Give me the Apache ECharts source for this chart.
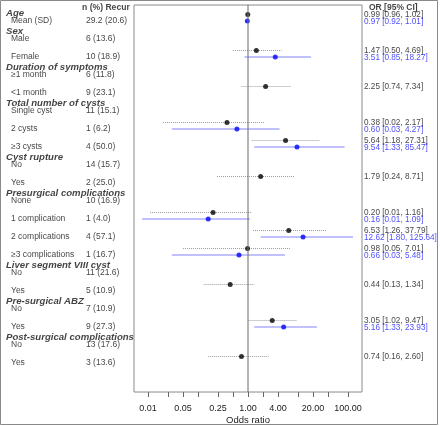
<!DOCTYPE html>
<html><head><meta charset="utf-8">
<script src="https://cdn.jsdelivr.net/npm/echarts@6/dist/echarts.min.js"></script>
<style>html,body{margin:0;padding:0;background:#fff}#c{width:440px;height:426px}</style>
</head><body><div id="c"></div>
<script>
// ---------- data ----------
const groupLabels = ['Age','Sex','Duration of symptoms','Total number of cysts','Cyst rupture',
  'Presurgical complications','Liver segment VIII cyst','Pre-surgical ABZ','Post-surgical complications'];
const groupFirstRow = [0,1,3,5,8,10,14,16,18];
const levelLabels = ['Mean (SD)','Male','Female','≥1 month','<1 month','Single cyst','2 cysts','≥3 cysts',
  'No','Yes','None','1 complication','2 complications','≥3 complications','No','Yes','No','Yes','No','Yes'];
const recurN = ['29.2 (20.6)','6 (13.6)','10 (18.9)','6 (11.8)','9 (23.1)','11 (15.1)','1 (6.2)','4 (50.0)',
  '14 (15.7)','2 (25.0)','10 (16.9)','1 (4.0)','4 (57.1)','1 (16.7)','11 (21.6)','5 (10.9)','7 (10.9)','9 (27.3)','13 (17.6)','3 (13.6)'];

// unadjusted (black)
const unadjRows = [0,2,4,6,7,9,11,12,13,15,17,19];
const unadjOR = [0.99,1.47,2.25,0.38,5.64,1.79,0.20,6.53,0.98,0.44,3.05,0.74];
const unadjLo = [0.96,0.50,0.74,0.02,1.18,0.24,0.011,1.26,0.05,0.13,1.02,0.16];
const unadjHi = [1.02,4.69,7.34,2.17,27.31,8.71,1.16,37.79,7.01,1.34,9.47,2.60];
// adjusted (blue)
const adjRows = [0,2,6,7,11,12,13,17];
const adjOR = [0.97,3.51,0.60,9.54,0.16,12.62,0.66,5.16];
const adjLo = [0.92,0.85,0.03,1.33,0.0076,1.80,0.03,1.33];
const adjHi = [1.01,18.27,4.27,85.47,1.09,125.64,5.48,23.93];

const xTicks = [0.01,0.025,0.05,0.1,0.25,0.5,1,2,4,10,20,40,100];
const xTickLabels = [0.01,0.05,0.25,1,4,20,100];
const refOR = 1;

// ---------- layout ----------
const FONT = '"Liberation Sans", Arial, sans-serif';
const Y_MIN = -0.89, Y_MAX = 20.61;
const BLACK_OFF = -0.36, HEAD_OFF = -0.44, TITLE_ROW = -0.74;
const BLUE_TXT = '#1a1aff';
const fmt = v => v.toFixed(2);
const ciText = (o,l,h) => fmt(o) + ' [' + fmt(l) + ', ' + fmt(h) + ']';

const chart = echarts.init(document.getElementById('c'), null, {renderer:'canvas'});

function yAx(i){ return {gridIndex:i, type:'value', inverse:true, min:Y_MIN, max:Y_MAX, show:false}; }
function txt(idx, items, style){
  return {type:'scatter', xAxisIndex:idx, yAxisIndex:idx, symbolSize:0, silent:true, animation:false,
    data: items.map(d => ({value:[d[0], d[1]], name:d[2]})),
    label:Object.assign({show:true, position:'right', distance:0, formatter:'{b}',
      fontFamily:FONT, fontSize:8.5, color:'#111'}, style)};
}

const leftItems = {
  heads: groupLabels.map((g,i) => [6, groupFirstRow[i] + HEAD_OFF, g]),
  levels: levelLabels.map((l,i) => [11, i, l]),
  vals: recurN.map((v,i) => [86, i, v]),
  title: [[82, TITLE_ROW, 'n (%) Recur']]
};
const rightItems = {
  black: unadjRows.map((r,i) => [2, r + BLACK_OFF, ciText(unadjOR[i], unadjLo[i], unadjHi[i])]),
  blue: adjRows.map((r,i) => [2, r + 0.05, ciText(adjOR[i], adjLo[i], adjHi[i])]),
  title: [[7, TITLE_ROW, 'OR [95% CI]']]
};

function ciSeries(rows, lo, hi, off, style){
  return {type:'custom', xAxisIndex:0, yAxisIndex:0, silent:true, animation:false,
    data: rows.map((r,i) => [lo[i], hi[i], r + off]),
    encode:{x:[0,1], y:2},
    renderItem:(params, api) => {
      const a = api.coord([api.value(0), api.value(2)]);
      const b = api.coord([api.value(1), api.value(2)]);
      return {type:'line', shape:{x1:a[0], y1:a[1], x2:b[0], y2:b[1]}, style:style};
    }};
}

const gridBase = {top:5, height:387, outerBoundsMode:'none', containLabel:false};
chart.setOption({
  animation:false,
  backgroundColor:'#fff',
  textStyle:{fontFamily:FONT},
  graphic:[{type:'rect', shape:{x:0.5, y:0.5, width:437, height:424}, style:{fill:'none', stroke:'#8a8a8a', lineWidth:1}, silent:true, z:-1}],
  grid:[
    Object.assign({left:134, width:228, show:true, borderColor:'#8a8a8a', borderWidth:1, backgroundColor:'transparent'}, gridBase),
    Object.assign({left:0, width:134}, gridBase),
    Object.assign({left:362, width:78}, gridBase)
  ],
  xAxis:[
    {gridIndex:0, type:'log', logBase:10, min:0.005248, max:190.5, position:'bottom',
      name:'Odds ratio', nameLocation:'middle', nameGap:23, nameMoveOverlap:false,
      nameTextStyle:{fontFamily:FONT, fontSize:9.5, color:'#222'},
      axisLine:{show:false, onZero:false}, splitLine:{show:false},
      axisTick:{show:true, inside:false, length:5, customValues:xTicks, lineStyle:{color:'#666'}},
      axisLabel:{show:true, customValues:xTickLabels, formatter:v => fmt(v), fontFamily:FONT, fontSize:9, color:'#222', margin:12}},
    {gridIndex:1, type:'value', min:0, max:134, show:false},
    {gridIndex:2, type:'value', min:0, max:78, show:false}
  ],
  yAxis:[yAx(0), yAx(1), yAx(2)],
  series:[
    {type:'line', xAxisIndex:0, yAxisIndex:0, symbol:'none', silent:true,
      data:[[refOR, Y_MIN],[refOR, Y_MAX]], lineStyle:{color:'#6a6a6a', width:1}},
    ciSeries(unadjRows, unadjLo, unadjHi, BLACK_OFF, {stroke:'#9a9a9a', lineWidth:1, lineDash:[1,1]}),
    ciSeries(adjRows, adjLo, adjHi, 0, {stroke:'#8383ff', lineWidth:1.2}),
    {type:'scatter', xAxisIndex:0, yAxisIndex:0, symbol:'circle', symbolSize:5, silent:true,
      data: unadjRows.map((r,i) => [unadjOR[i], r + BLACK_OFF]), itemStyle:{color:'#000'}},
    {type:'scatter', xAxisIndex:0, yAxisIndex:0, symbol:'circle', symbolSize:5, silent:true,
      data: adjRows.map((r,i) => [adjOR[i], r]), itemStyle:{color:'#0000ff'}},
    txt(1, leftItems.heads, {fontWeight:'bold', fontStyle:'italic', fontSize:9.6}),
    txt(1, leftItems.levels, {}),
    txt(1, leftItems.vals, {}),
    txt(1, leftItems.title, {fontWeight:'bold', fontSize:8.6}),
    txt(2, rightItems.black, {fontSize:8.2}),
    txt(2, rightItems.blue, {fontSize:8.2, color:BLUE_TXT}),
    txt(2, rightItems.title, {fontWeight:'bold', fontSize:8.5})
  ]
});
</script></body></html>
